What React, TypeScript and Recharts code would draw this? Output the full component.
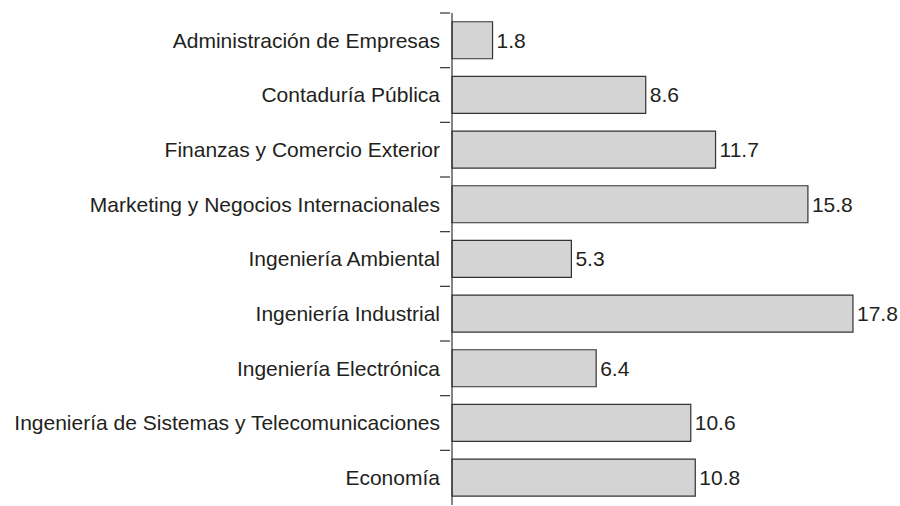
import React from "react";
import { BarChart, Bar, XAxis, YAxis, LabelList } from "recharts";

const carreras = [
  "Administración de Empresas",
  "Contaduría Pública",
  "Finanzas y Comercio Exterior",
  "Marketing y Negocios Internacionales",
  "Ingeniería Ambiental",
  "Ingeniería Industrial",
  "Ingeniería Electrónica",
  "Ingeniería de Sistemas y Telecomunicaciones",
  "Economía",
];

const porcentajes = [1.8, 8.6, 11.7, 15.8, 5.3, 17.8, 6.4, 10.6, 10.8];

const data = carreras.map((name, i) => ({ name, value: porcentajes[i] }));

const W = 900;
const H = 506;
const margin = { top: 13, right: 20, bottom: 1, left: 0 };
const bandH = (H - margin.top - margin.bottom) / carreras.length;
const font = "'Liberation Sans', Arial, sans-serif";

function CategoryTick(props: any) {
  const { x, y, payload } = props;
  const top = y - bandH / 2;
  return (
    <g>
      <line x1={x - 10} x2={x} y1={top} y2={top} stroke="#333" strokeWidth={1.2} />
      <text
        x={x - 10}
        y={y}
        dy="0.35em"
        textAnchor="end"
        fontFamily={font}
        fontSize={21}
        fill="#231f20"
      >
        {payload.value}
      </text>
    </g>
  );
}

export default function App() {
  return (
    <div style={{ position: "absolute", left: 0, top: 0, background: "#fff" }}>
      <BarChart
        width={W}
        height={H}
        data={data}
        layout="vertical"
        margin={margin}
        barCategoryGap="16%"
      >
        <XAxis type="number" domain={[0, 19]} hide />
        <YAxis
          type="category"
          dataKey="name"
          width={452}
          tickLine={false}
          tickSize={0}
          axisLine={{ stroke: "#333", strokeWidth: 1.2 }}
          tick={<CategoryTick />}
          interval={0}
        />
        <Bar
          dataKey="value"
          fill="#d4d4d5"
          stroke="#333"
          strokeWidth={1.2}
          isAnimationActive={false}
        >
          <LabelList
            dataKey="value"
            position="right"
            offset={4}
            fontFamily={font}
            fontSize={21}
            fill="#231f20"
            formatter={(v: any) => Number(v).toFixed(1)}
          />
        </Bar>
      </BarChart>
    </div>
  );
}
